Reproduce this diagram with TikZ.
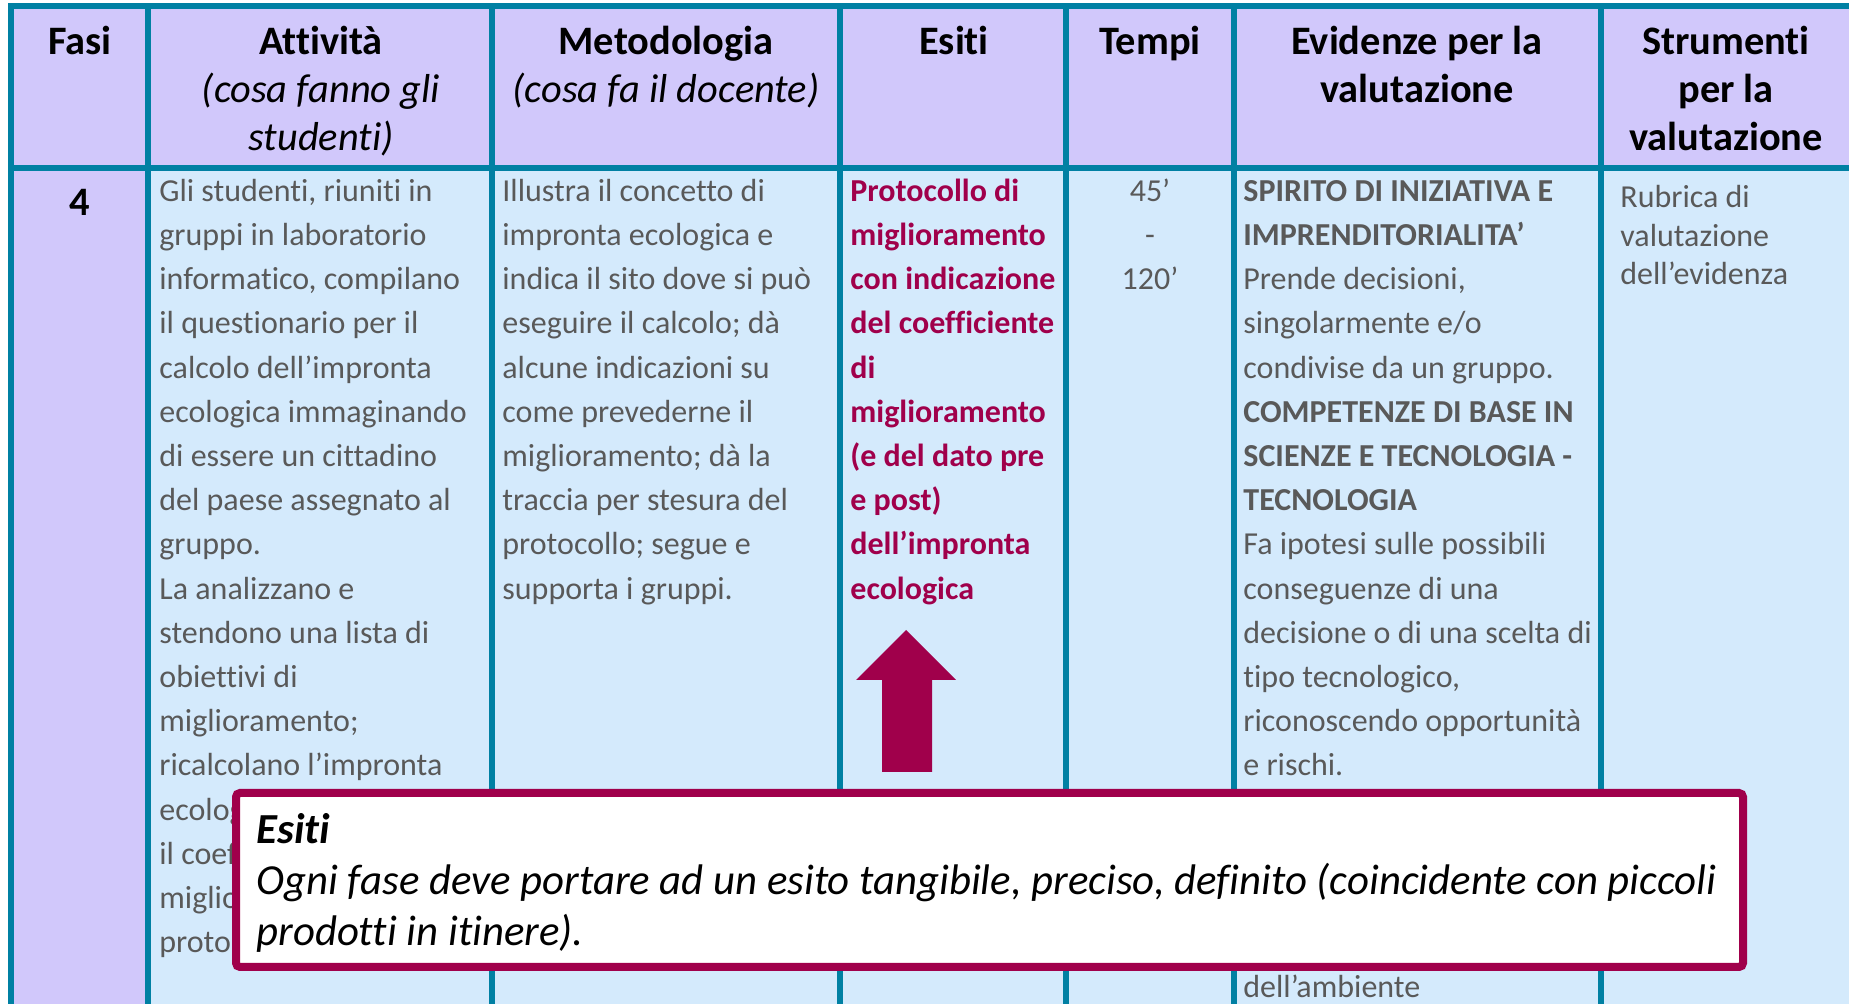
\documentclass[tikz,border=0pt]{standalone}
\usepackage{fontspec}
\setmainfont[Ligatures=NoCommon]{Carlito}
\definecolor{gridteal}{RGB}{0,128,163}
\definecolor{headlilac}{RGB}{209,200,251}
\definecolor{cellblue}{RGB}{212,234,252}
\definecolor{textgray}{RGB}{89,89,89}
\definecolor{esitired}{RGB}{160,0,75}
\begin{document}
\begin{tikzpicture}[x=0.5pt,y=-0.5pt,
  tableline/.style={gridteal,line width=3pt},
  headtext/.style={font=\fontsize{20.2}{23.9}\selectfont,align=center,anchor=north,inner sep=0pt},
  celltext/.style={font=\fontsize{16}{22.1}\selectfont,text=textgray,align=left,anchor=north west,inner sep=0pt},
  esitotext/.style={celltext,font=\fontsize{16}{22.1}\selectfont\bfseries,text=esitired},
  notetext/.style={font=\fontsize{21.4}{25.4}\selectfont\itshape,align=left,anchor=north west,inner sep=0pt}]

\useasboundingbox (0,0) rectangle (1849,1004);
\clip (0,0) rectangle (1849,1004);

\fill[white] (0,0) rectangle (1849,1004);
\fill[headlilac] (11,6) rectangle (1849,168);
\fill[headlilac] (11,168) rectangle (148,1004);
\fill[cellblue] (148,168) rectangle (1849,1004);

\draw[tableline] (11,1004) -- (11,6) -- (1849,6);
\draw[tableline] (11,168) -- (1849,168);
\foreach \x in {148,492,840,1066,1234,1601}
  \draw[tableline] (\x,6) -- (\x,1004);

\node[headtext] (fasi) at (80,21) {\strut\bfseries Fasi};
\node[headtext] (attivita) at (321,21) {\strut\textbf{Attività}\\\textit{(cosa fanno gli}\\\textit{studenti)}};
\node[headtext] (metodologia) at (666,21) {\strut\textbf{Metodologia}\\\textit{(cosa fa il docente)}};
\node[headtext] (esiti) at (954,21) {\strut\bfseries Esiti};
\node[headtext] (tempi) at (1150,21) {\strut\bfseries Tempi};
\node[headtext] (evidenze) at (1417,21) {\strut\bfseries Evidenze per la\\\bfseries valutazione};
\node[headtext] (strumenti) at (1726,21) {\strut\bfseries Strumenti\\\bfseries per la\\\bfseries valutazione};

\node[headtext,anchor=base] (fase4) at (80,216) {\bfseries 4};

\node[celltext] (attivitatxt) at (159,170) {\strut Gli studenti, riuniti in\\gruppi in laboratorio\\informatico, compilano\\il questionario per il\\calcolo dell’impronta\\ecologica immaginando\\di essere un cittadino\\del paese assegnato al\\gruppo.\\La analizzano e\\stendono una lista di\\obiettivi di\\miglioramento;\\ricalcolano l’impronta\\ecologica\\il coefficiente\\miglioramento\\protocollo};

\node[celltext] (metodologiatxt) at (502,170) {\strut Illustra il concetto di\\impronta ecologica e\\indica il sito dove si può\\eseguire il calcolo; dà\\alcune indicazioni su\\come prevederne il\\miglioramento; dà la\\traccia per stesura del\\protocollo; segue e\\supporta i gruppi.};

\node[esitotext] (esititxt) at (850,170) {\strut Protocollo di\\miglioramento\\con indicazione\\del coefficiente\\di\\miglioramento\\(e del dato pre\\e post)\\dell’impronta\\ecologica};

\node[celltext,align=center,anchor=north] (tempitxt) at (1150,170) {\strut 45’\\-\\120’};

\node[celltext] (evidenzetxt) at (1243,170) {\strut\textbf{SPIRITO DI INIZIATIVA E}\\\textbf{IMPRENDITORIALITA’}\\Prende decisioni,\\singolarmente e/o\\condivise da un gruppo.\\\textbf{COMPETENZE DI BASE IN}\\\textbf{SCIENZE E TECNOLOGIA -}\\\textbf{TECNOLOGIA}\\Fa ipotesi sulle possibili\\conseguenze di una\\decisione o di una scelta di\\tipo tecnologico,\\riconoscendo opportunità\\e rischi.};
\node[celltext,anchor=base west] (ambiente) at (1243,998) {dell’ambiente};

\node[celltext,font=\fontsize{16}{19.3}\selectfont] (strumentitxt) at (1620,180) {\strut Rubrica di\\valutazione\\dell’evidenza};

\fill[esitired] (882,772) -- (882,680) -- (856,680) -- (906,630) -- (956,680) -- (932,680) -- (932,772) -- cycle;

\draw[esitired,line width=4pt,fill=white,rounded corners=2pt] (236,793) rectangle (1743,967);
\node[notetext] (nota) at (256,808) {\strut\textbf{Esiti}\\Ogni fase deve portare ad un esito tangibile, preciso, definito (coincidente con piccoli\\prodotti in itinere).};
\end{tikzpicture}
\end{document}
